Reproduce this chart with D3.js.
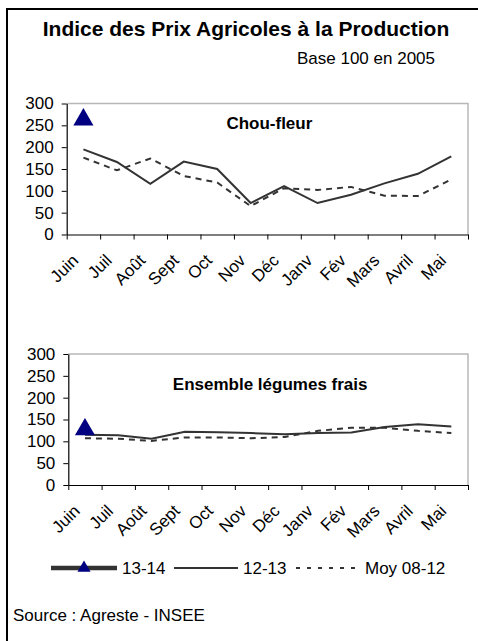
<!DOCTYPE html>
<html><head><meta charset="utf-8">
<script src="https://cdn.jsdelivr.net/npm/d3@7"></script>
<style>body{margin:0;background:#fff}svg{display:block}text{font-family:"Liberation Sans",Arial,sans-serif;fill:#000}</style>
</head><body>
<svg id="c" width="478" height="641"></svg>
<script>
const months = ["Juin","Juil","Août","Sept","Oct","Nov","Déc","Janv","Fév","Mars","Avril","Mai"];
const yTicks = [0,50,100,150,200,250,300];
const seriesNames = ["13-14","12-13","Moy 08-12"];

const chouS1314 = [263,null,null,null,null,null,null,null,null,null,null,null];
const chouS1213 = [195,166,116,167,150,72,111,72,91,117,139,179];
const chouMoy = [176,147,174,134,119,65,106,102,109,89,88,126];

const legS1314 = [127,null,null,null,null,null,null,null,null,null,null,null];
const legS1213 = [115,114,106,122,121,119,116,119,120,133,139,134];
const legMoy = [107,106,101,109,109,107,110,124,131,131,124,119];

const svg = d3.select("#c");
const FONT = 17;

// outer frame
svg.append("rect").attr("x",7).attr("y",9).attr("width",490).attr("height",650)
  .attr("fill","none").attr("stroke","#000").attr("stroke-width",2);

svg.append("text").attr("x",246).attr("y",36).attr("text-anchor","middle")
  .attr("font-size",21).attr("font-weight","bold").text("Indice des Prix Agricoles à la Production");
svg.append("text").attr("x",435).attr("y",64).attr("text-anchor","end")
  .attr("font-size",FONT).text("Base 100 en 2005");

function panel(opts){
  const {left,right,top,bottom,title,titleY,s1314,s1213,moy} = opts;
  const x = d3.scaleBand().domain(months).range([left,right]).padding(0);
  const y = d3.scaleLinear().domain([0,300]).range([bottom,top]);
  const g = svg.append("g");
  // top and right border
  g.append("path").attr("d",`M${left},${top}H${right}V${bottom}`)
    .attr("fill","none").attr("stroke","#b8b8b8").attr("stroke-width",1.5);
  // y axis
  const ya = g.append("g").attr("transform",`translate(${left},0)`)
    .call(d3.axisLeft(y).tickValues(yTicks).tickSize(5).tickPadding(8).tickSizeOuter(0));
  ya.select(".domain").attr("stroke","#000").attr("stroke-width",1.2);
  ya.selectAll(".tick line").attr("stroke","#000");
  ya.selectAll("text").attr("font-size",FONT).attr("font-family","Liberation Sans, Arial, sans-serif").attr("fill","#000");
  // x axis with boundary ticks
  const bounds = d3.range(months.length+1);
  const xb = d3.scaleLinear().domain([0,months.length]).range([left,right]);
  const xa = g.append("g").attr("transform",`translate(0,${bottom})`)
    .call(d3.axisBottom(xb).tickValues(bounds).tickSize(5).tickFormat("").tickSizeOuter(0));
  xa.select(".domain").attr("stroke","#000").attr("stroke-width",1.2);
  xa.selectAll(".tick line").attr("stroke","#000");
  g.selectAll(".mlab").data(months).enter().append("text")
    .attr("class","mlab").attr("text-anchor","end").attr("font-size",FONT)
    .attr("transform",d=>`translate(${x(d)+x.bandwidth()/2-4},${bottom+27}) rotate(-45)`)
    .text(d=>d);
  g.append("text").attr("x",(left+right)/2+2).attr("y",titleY).attr("text-anchor","middle")
    .attr("font-size",FONT).attr("font-weight","bold").text(title);
  const cx = (d,i)=>x(months[i])+x.bandwidth()/2;
  const line = d3.line().defined(d=>d!=null).x(cx).y(d=>y(d));
  g.append("path").datum(moy).attr("d",line).attr("fill","none")
    .attr("stroke","#333").attr("stroke-width",2).attr("stroke-dasharray","6,5");
  g.append("path").datum(s1213).attr("d",line).attr("fill","none")
    .attr("stroke","#333").attr("stroke-width",2);
  g.append("path").datum(s1314).attr("d",line).attr("fill","none")
    .attr("stroke","#333").attr("stroke-width",4);
  g.selectAll(".mk").data(s1314.map((v,i)=>({v,i})).filter(d=>d.v!=null)).enter()
    .append("path").attr("d",d3.symbol(d3.symbolTriangle,175))
    .attr("transform",d=>`translate(${cx(d.v,d.i)},${y(d.v)})`)
    .attr("fill","#000080");
}

panel({left:66.7,right:468,top:103.5,bottom:234.5,title:"Chou-fleur",titleY:129,
  s1314:chouS1314,s1213:chouS1213,moy:chouMoy});
panel({left:68.3,right:468,top:354,bottom:485,title:"Ensemble légumes frais",titleY:390,
  s1314:legS1314,s1213:legS1213,moy:legMoy});

// legend
const lg = svg.append("g");
const ly = 568;
const items = [
  {x1:51,x2:117,w:4.5,dash:null,tri:true,tx:122},
  {x1:174,x2:238,w:2,dash:null,tri:false,tx:243},
  {x1:296,x2:362,w:2,dash:"4,7",tri:false,tx:365}
];
items.forEach((it,i)=>{
  lg.append("line").attr("x1",it.x1).attr("x2",it.x2).attr("y1",ly).attr("y2",ly)
    .attr("stroke","#333").attr("stroke-width",it.w).attr("stroke-dasharray",it.dash);
  if(it.tri) lg.append("path").attr("d",d3.symbol(d3.symbolTriangle,75))
    .attr("transform",`translate(${(it.x1+it.x2)/2},${ly})`).attr("fill","#000080");
  lg.append("text").attr("x",it.tx).attr("y",ly).attr("dy","0.35em").attr("font-size",FONT).text(seriesNames[i]);
});

svg.append("text").attr("x",13).attr("y",621).attr("font-size",FONT).text("Source : Agreste - INSEE");
</script>
</body></html>
